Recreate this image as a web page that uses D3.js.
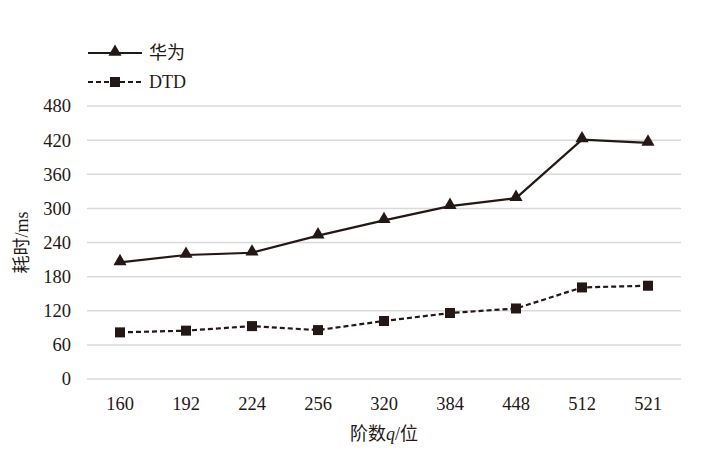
<!DOCTYPE html>
<html>
<head>
<meta charset="utf-8">
<script src="https://cdn.jsdelivr.net/npm/d3@7"></script>
<style>
  body { margin: 0; background: #fff; }
  text { font-family: "Liberation Serif", "Noto Sans CJK SC", serif; fill: #231815; }
</style>
</head>
<body>
<div id="chart"></div>
<script>

// data

var categories = ["160", "192", "224", "256", "320", "384", "448", "512", "521"];
var huaweiValues = [205, 218, 222, 252, 279, 304, 318, 421, 415];
var dtdValues = [82, 85, 93, 86, 102, 116, 124, 161, 164];
var yTicks = [0, 60, 120, 180, 240, 300, 360, 420, 480];

var width = 704,
    height = 452,
    marginTop = 106,
    marginRight = 23,
    marginLeft = 87,
    marginBottom = 73;

var ink = "#231815";

var svg = d3.select("#chart").append("svg")
  .attr("width", width)
  .attr("height", height);

var x = d3.scaleBand()
  .domain(categories)
  .range([marginLeft, width - marginRight]);

var y = d3.scaleLinear()
  .domain([0, 480])
  .range([height - marginBottom, marginTop]);

// gridlines

svg.append("g")
  .selectAll("line")
  .data(yTicks)
  .enter()
    .append("line")
      .attr("x1", marginLeft)
      .attr("x2", width - marginRight)
      .attr("y1", function(d) { return y(d); })
      .attr("y2", function(d) { return y(d); })
      .attr("stroke", "#d9d9d9")
      .attr("stroke-width", 1.5);

// y tick labels

svg.append("g")
  .selectAll("text")
  .data(yTicks)
  .enter()
    .append("text")
      .attr("x", marginLeft - 16)
      .attr("y", function(d) { return y(d); })
      .attr("dy", "0.35em")
      .style("text-anchor", "end")
      .style("font-size", "18.5px")
      .text(function(d) { return d; });

// x tick labels

svg.append("g")
  .selectAll("text")
  .data(categories)
  .enter()
    .append("text")
      .attr("x", function(d) { return x(d) + x.bandwidth() / 2; })
      .attr("y", 410)
      .style("text-anchor", "middle")
      .style("font-size", "18.5px")
      .text(function(d) { return d; });

// axis titles

var xTitle = svg.append("text")
  .attr("x", (marginLeft + width - marginRight) / 2)
  .attr("y", 440)
  .style("text-anchor", "middle")
  .style("font-size", "18px");
xTitle.append("tspan").text("阶数");
xTitle.append("tspan").style("font-style", "italic").text("q");
xTitle.append("tspan").text("/位");

svg.append("text")
  .attr("transform", "translate(28," + y(240) + ") rotate(-90)")
  .style("text-anchor", "middle")
  .style("font-size", "18px")
  .text("耗时/ms");

// lines

var cx = function(d, i) { return x(categories[i]) + x.bandwidth() / 2; };

var line = d3.line()
  .x(cx)
  .y(function(d) { return y(d); });

svg.append("path")
  .datum(huaweiValues)
  .attr("d", line)
  .attr("fill", "none")
  .attr("stroke", ink)
  .attr("stroke-width", 2.2);

svg.append("path")
  .datum(dtdValues)
  .attr("d", line)
  .attr("fill", "none")
  .attr("stroke", ink)
  .attr("stroke-width", 2.2)
  .attr("stroke-dasharray", "5,3");

// markers

var tri = d3.symbol().type(d3.symbolTriangle).size(75);

svg.append("g")
  .selectAll("path")
  .data(huaweiValues)
  .enter()
    .append("path")
      .attr("d", tri)
      .attr("transform", function(d, i) { return "translate(" + cx(d, i) + "," + (y(d) - 1) + ")"; })
      .attr("fill", ink);

svg.append("g")
  .selectAll("rect")
  .data(dtdValues)
  .enter()
    .append("rect")
      .attr("x", function(d, i) { return cx(d, i) - 5; })
      .attr("y", function(d) { return y(d) - 5; })
      .attr("width", 10)
      .attr("height", 10)
      .attr("fill", ink);

// legend

var legend = svg.append("g");

legend.append("line")
  .attr("x1", 88).attr("x2", 142)
  .attr("y1", 53).attr("y2", 53)
  .attr("stroke", ink).attr("stroke-width", 2.2);
legend.append("path")
  .attr("d", tri)
  .attr("transform", "translate(115,52)")
  .attr("fill", ink);
legend.append("text")
  .attr("x", 149).attr("y", 53)
  .attr("dy", "0.35em")
  .style("font-size", "18px")
  .text("华为");

legend.append("line")
  .attr("x1", 88).attr("x2", 142)
  .attr("y1", 82).attr("y2", 82)
  .attr("stroke", ink).attr("stroke-width", 2.2)
  .attr("stroke-dasharray", "5,3");
legend.append("rect")
  .attr("x", 110).attr("y", 77)
  .attr("width", 10).attr("height", 10)
  .attr("fill", ink);
legend.append("text")
  .attr("x", 149).attr("y", 82)
  .attr("dy", "0.35em")
  .style("font-size", "18px")
  .text("DTD");

</script>
</body>
</html>
